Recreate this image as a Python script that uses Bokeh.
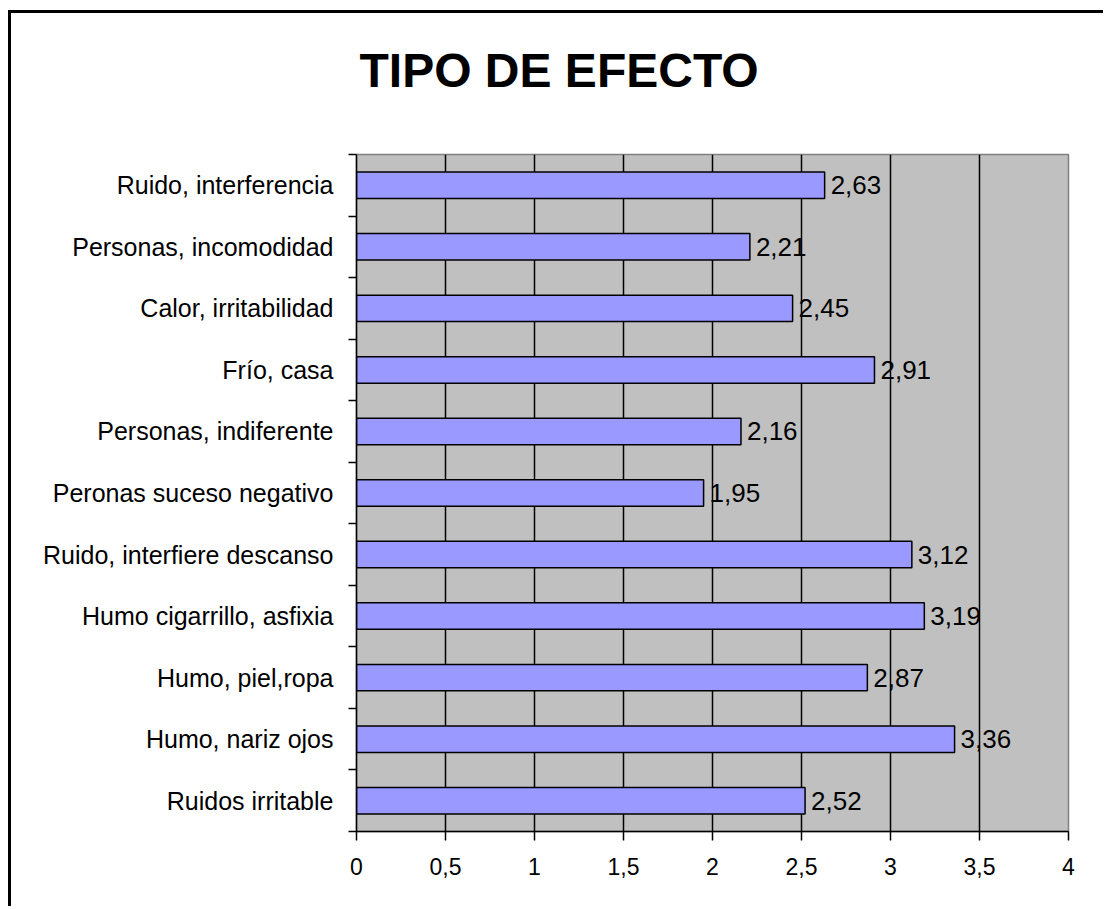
from bokeh.plotting import figure
from bokeh.models import Range1d, FixedTicker, CustomJSTickFormatter, Title
from bokeh.core.properties import value
from bokeh.embed import file_html
from bokeh.resources import INLINE

categories = [
    "Ruidos irritable",
    "Humo, nariz ojos",
    "Humo, piel,ropa",
    "Humo cigarrillo, asfixia",
    "Ruido, interfiere descanso",
    "Peronas suceso negativo",
    "Personas, indiferente",
    "Frío, casa",
    "Calor, irritabilidad",
    "Personas, incomodidad",
    "Ruido, interferencia",
]
values = [2.52, 3.36, 2.87, 3.19, 3.12, 1.95, 2.16, 2.91, 2.45, 2.21, 2.63]
x_ticks = [0, 0.5, 1, 1.5, 2, 2.5, 3, 3.5, 4]
title_text = "TIPO DE EFECTO"

FONT = "Liberation Sans"
n = len(categories)
centers = [i + 0.5 for i in range(n)]
boundaries = list(range(n + 1))
labels = [f"{v:.2f}".replace(".", ",") for v in values]

p = figure(
    width=1095, height=896,
    x_range=Range1d(0, 4), y_range=Range1d(0, n),
    output_backend="svg", toolbar_location=None,
    min_border_left=345, min_border_right=38,
    min_border_top=141, min_border_bottom=78,
    title=title_text,
    styles={"border-left": "3px solid black", "border-top": "3px solid black",
            "border-right": "none", "border-bottom": "none",
            "margin-left": "8px", "margin-top": "10px"},
)
p.title.text_font = FONT
p.title.text_font_size = "48px"
p.title.text_font_style = "bold"
p.title.text_color = "black"
p.title.align = "left"
p.title.offset = 3
p.title.standoff = 0

# blank spacer panel between the title and the plot area
spacer = Title(text=" ", text_font=FONT, text_font_size="50px", standoff=0)
p.add_layout(spacer, "above")

p.background_fill_color = "#C0C0C0"
p.border_fill_color = "white"
p.outline_line_color = "#808080"
p.outline_line_width = 1.5

p.hbar(y=centers, right=values, left=0, height=0.43,
       fill_color="#9999FF", line_color="black", line_width=1.5)

p.text(x=values, y=centers, text=labels, x_offset=6,
       text_baseline="middle", text_align="left",
       text_font=value(FONT), text_font_size="26px", text_color="black")

# x axis
p.xaxis.ticker = FixedTicker(ticks=x_ticks)
p.xaxis.formatter = CustomJSTickFormatter(code="return tick.toString().replace('.', ',');")
p.xaxis.major_label_text_font = FONT
p.xaxis.major_label_text_font_size = "23px"
p.xaxis.major_label_text_color = "black"
p.xaxis.major_label_standoff = 17
p.xaxis.major_tick_out = 9
p.xaxis.major_tick_in = 0
p.xaxis.minor_tick_line_color = None
p.xaxis.axis_line_color = "black"
p.xaxis.axis_line_width = 1.5
p.xaxis.major_tick_line_color = "black"
p.xaxis.major_tick_line_width = 1.5

# y axis
p.yaxis.ticker = FixedTicker(ticks=centers, minor_ticks=boundaries)
p.yaxis.formatter = CustomJSTickFormatter(args=dict(labels=categories),
                                          code="return labels[Math.floor(tick)];")
p.yaxis.major_label_text_font = FONT
p.yaxis.major_label_text_font_size = "25px"
p.yaxis.major_label_text_color = "black"
p.yaxis.major_label_standoff = 15
p.yaxis.major_tick_out = 0
p.yaxis.major_tick_in = 0
p.yaxis.major_tick_line_color = None
p.yaxis.minor_tick_out = 8
p.yaxis.minor_tick_in = 0
p.yaxis.minor_tick_line_color = "black"
p.yaxis.minor_tick_line_width = 1.5
p.yaxis.axis_line_color = "black"
p.yaxis.axis_line_width = 1.5

p.xgrid.grid_line_color = "black"
p.xgrid.grid_line_width = 1.5
p.ygrid.grid_line_color = None

open("out.html", "w").write(file_html(p, INLINE))
